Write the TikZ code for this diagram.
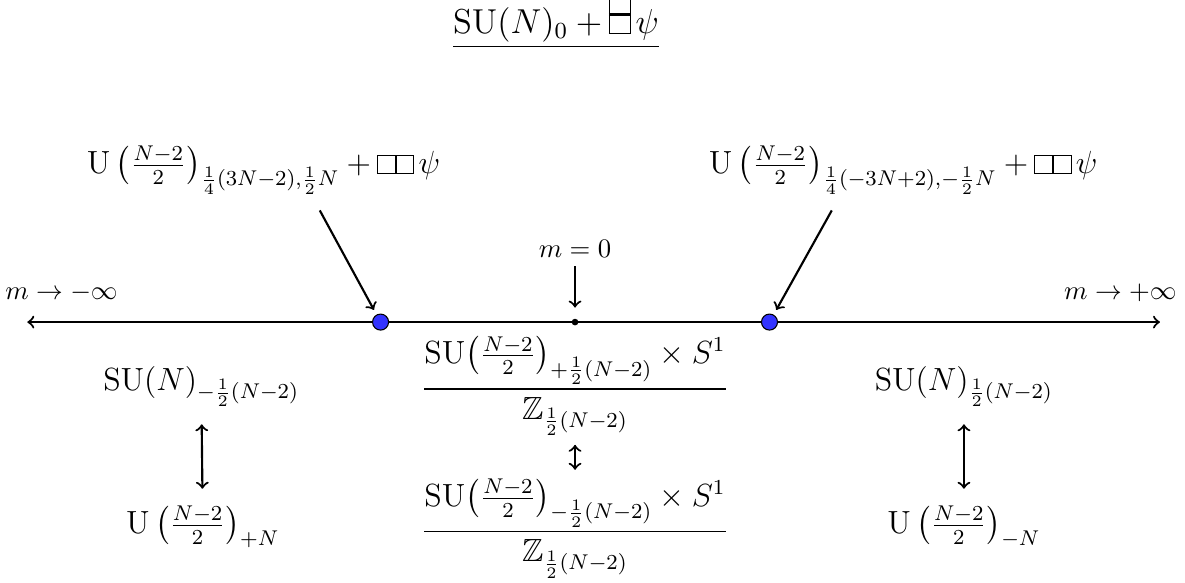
\documentclass[tikz,border=0pt]{standalone}
\usepackage{graphicx}
\usepackage{amsmath,amssymb}

% Young diagrams: two boxes in a row, two boxes in a column
\newcommand{\ydrow}{\mbox{\setlength{\unitlength}{0.5em}\begin{picture}(2.2,1.1)\put(0,0){\framebox(1.1,1.1){}}\put(1.1,0){\framebox(1.1,1.1){}}\end{picture}}}
\newcommand{\ydcol}{\mbox{\setlength{\unitlength}{0.5em}\begin{picture}(1.15,2.2)(0,-0.5)\put(0,-0.5){\framebox(1.15,1.08){}}\put(0,0.58){\framebox(1.15,1.08){}}\end{picture}}}
\newcommand{\Uhalf}{\mathrm{U}\left(\tfrac{N-2}{2}\right)}
\newcommand{\SUhalf}{\mathrm{SU}\bigl(\tfrac{N-2}{2}\bigr)}

\begin{document}
\begin{tikzpicture}[
    lbl/.style={font=\large},
    dot/.style={circle, draw, fill=blue!80, inner sep=0pt, minimum size=6pt},
    origindot/.style={circle, fill, inner sep=0pt, minimum size=2.5pt},
    pointer/.style={->, thick},
    dual/.style={<->, thick}]
\useasboundingbox (-7.57,-3.43) rectangle (8.03,4.24);

% Theory
\node[lbl] (title) at (-0.25,3.95) {\scalebox{1.08}{$\underline{\mathrm{SU}(N)_0+\ydcol\,\psi}$}};

% Mass axis
\coordinate (west) at (-7.21,0);
\coordinate (east) at (7.70,0);
\draw[<->, thick] (west) -- (east);
\node at (-6.76,0.38) (minus) {$m\to-\infty$};
\node at (7.18,0.38) (plus) {$m\to+\infty$};

% Transition points
\node[dot] (p1) at (-2.56,0) {};
\node[dot] (p2) at (2.56,0) {};
\node[origindot] (origin) at (0,0) {};

% m = 0
\node (mzero) at (0,0.97) {$m=0$};
\draw[pointer, shorten >=4pt] (mzero) -- (origin);

% Theories at the transitions
\node[lbl] (uleft) at (-4.1,2.0) {$\Uhalf_{\frac14(3N-2),\frac12 N}+\ydrow\,\psi$};
\node[lbl] (uright) at (4.32,2.0) {$\Uhalf_{\frac14(-3N+2),-\frac12 N}+\ydrow\,\psi$};
\coordinate (a1) at (-3.36,1.47);
\coordinate (a2) at (3.38,1.47);
\draw[pointer, shorten >=2pt] (a1) -- (p1);
\draw[pointer, shorten >=2pt] (a2) -- (p2);

% Left phase
\node[lbl] (suleft) at (-4.92,-0.85) {$\mathrm{SU}(N)_{-\frac12(N-2)}$};
\node[lbl] (dleft) at (-4.90,-2.70) {$\Uhalf_{+N}$};
\draw[dual, shorten <=3pt, shorten >=3pt] (suleft) -- (dleft);

% Middle phase
\node[lbl] (sumid) at (0,-0.84) {$\dfrac{\SUhalf_{+\frac12(N-2)}\times S^1}{\mathbb{Z}_{\frac12(N-2)}}$};
\node[lbl] (dmid) at (0,-2.72) {$\dfrac{\SUhalf_{-\frac12(N-2)}\times S^1}{\mathbb{Z}_{\frac12(N-2)}}$};
\draw[dual] (sumid) -- (dmid);

% Right phase
\node[lbl] (suright) at (5.12,-0.85) {$\mathrm{SU}(N)_{\frac12(N-2)}$};
\node[lbl] (dright) at (5.12,-2.70) {$\Uhalf_{-N}$};
\draw[dual, shorten <=3pt, shorten >=3pt] (suright) -- (dright);
\end{tikzpicture}
\end{document}
